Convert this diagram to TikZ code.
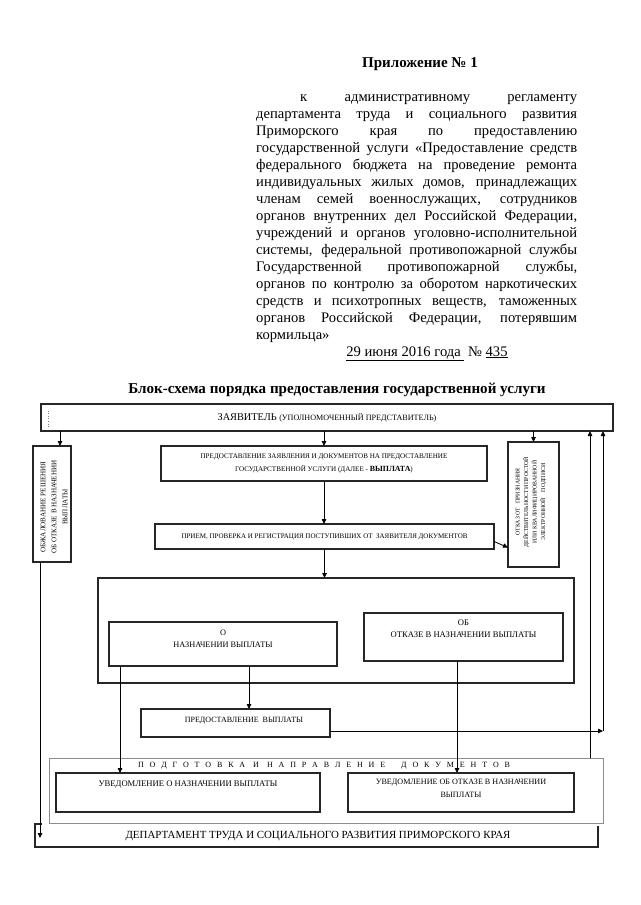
\documentclass[tikz,border=0pt]{standalone}
\usepackage{fontspec}
\setmainfont{Liberation Serif}
\usetikzlibrary{arrows.meta,calc}
\begin{document}
\begin{tikzpicture}[x=1pt,y=-1pt,
  frame/.style={draw=black!85, line width=1.2pt, inner sep=0pt, outer sep=0pt},
  arr/.style={line width=0.8pt, -{Triangle[length=5pt,width=4.5pt]}},
  ln/.style={line width=0.8pt},
  body/.style={font=\fontsize{14.6}{17}\selectfont, inner sep=0pt, anchor=base west},
  bx/.style={font=\fontsize{7}{12}\selectfont, align=center, inner sep=1pt},
]
\useasboundingbox (0,0) rectangle (640,905);
\fill[white] (0,0) rectangle (640,905);

% ---------- header text ----------
\node[font=\fontsize{15}{17}\selectfont\bfseries, anchor=base] (app) at (420,67) {Приложение № 1};
\node[body] (p1) at (300,101) {\makebox[277pt][s]{к административному регламенту}};
\foreach \t [count=\i from 2] in {
  {департамента труда и социального развития},
  {Приморского края по предоставлению},
  {государственной услуги «Предоставление средств},
  {федерального бюджета на проведение ремонта},
  {индивидуальных жилых домов, принадлежащих},
  {членам семей военнослужащих, сотрудников},
  {органов внутренних дел Российской Федерации,},
  {учреждений и органов уголовно-исполнительной},
  {системы, федеральной противопожарной службы},
  {Государственной противопожарной службы,},
  {органов по контролю за оборотом наркотических},
  {средств и психотропных веществ, таможенных},
  {органов Российской Федерации, потерявшим}}
  {\node[body] (p\i) at (256,{101+17*(\i-1)}) {\makebox[321pt][s]{\t}};}
\node[body] (p15) at (256,339) {кормильца»};
\node[font=\fontsize{14.6}{17}\selectfont, anchor=base] (date) at (427,356) {\underline{29 июня 2016 года }\ №\ \underline{435}};
\node[font=\fontsize{15.1}{17}\selectfont\bfseries, anchor=base] (title) at (337,393) {Блок-схема порядка предоставления государственной услуги};

% ---------- boxes ----------
\node[frame, minimum width=572pt, minimum height=27pt] (Z) at (327,417.5)
  {{\fontsize{10.3}{11}\selectfont ЗАЯВИТЕЛЬ} {\fontsize{8.1}{9}\selectfont(УПОЛНОМОЧЕННЫЙ ПРЕДСТАВИТЕЛЬ)}};
\draw[dotted, black!50, line width=0.6pt] ([xshift=7pt,yshift=7pt]Z.west) -- ([xshift=7pt,yshift=-10pt]Z.west);

\node[frame, minimum width=38pt, minimum height=116pt] (obzh) at (52,504) {};
\node[rotate=90, font=\fontsize{7.1}{11}\selectfont, align=center, inner sep=0pt] (obzht) at (54,507)
  {ОБЖАЛОВАНИЕ РЕШЕНИЯ\\ОБ ОТКАЗЕ В НАЗНАЧЕНИИ\\ВЫПЛАТЫ};

\node[frame, minimum width=51pt, minimum height=125pt] (otkaz) at (533.5,504.5) {};
\node[rotate=90, font=\fontsize{5.8}{8.5}\selectfont, align=center, inner sep=0pt] (otkazt) at (531,502)
  {ОТКАЗ ОТ\ \ \ ПРИЗНАНИЯ\\ДЕЙСТВИТЕЛЬНОСТИ ПРОСТОЙ\\ИЛИ КВАЛИФИЦИРОВАННОЙ\\ЭЛЕКТРОННОЙ\ \ \ \ ПОДПИСИ};

\node[frame, bx, minimum width=326pt, minimum height=35pt, font=\fontsize{7.1}{13}\selectfont] (pred) at (324,463.5)
  {ПРЕДОСТАВЛЕНИЕ ЗАЯВЛЕНИЯ И ДОКУМЕНТОВ НА ПРЕДОСТАВЛЕНИЕ\\ГОСУДАРСТВЕННОЙ УСЛУГИ (ДАЛЕЕ - {\fontsize{7.9}{13}\selectfont\bfseries ВЫПЛАТА})};

\node[frame, bx, minimum width=339pt, minimum height=25pt, font=\fontsize{7}{9}\selectfont] (priem) at (324.5,536.5)
  {ПРИЕМ, ПРОВЕРКА И РЕГИСТРАЦИЯ ПОСТУПИВШИХ ОТ\ \ ЗАЯВИТЕЛЯ ДОКУМЕНТОВ};

\node[frame, minimum width=476pt, minimum height=105pt] (big) at (336,630.5) {};

\node[frame, minimum width=228pt, minimum height=44pt] (naz) at (223,644) {};
\node[bx, anchor=north, font=\fontsize{8.3}{12}\selectfont] (nazt) at ([yshift=-7pt]naz.north) {О\\НАЗНАЧЕНИИ ВЫПЛАТЫ};

\node[frame, minimum width=199pt, minimum height=48pt] (otk) at (463.5,637) {};
\node[bx, anchor=north, font=\fontsize{8.6}{12}\selectfont] (otkt) at ([yshift=-6pt]otk.north) {ОБ\\ОТКАЗЕ В НАЗНАЧЕНИИ ВЫПЛАТЫ};

\node[frame, minimum width=189pt, minimum height=28pt] (predv) at (235.5,723) {};
\node[bx, font=\fontsize{8}{9}\selectfont] (predvt) at (244,721) {ПРЕДОСТАВЛЕНИЕ\ \ ВЫПЛАТЫ};

\node[draw=black!45, line width=0.9pt, minimum width=554pt, minimum height=65pt, inner sep=0pt] (podg) at (326,790.5) {};
\node[font=\fontsize{8}{10}\selectfont, inner sep=0pt] (podgt) at (324,766)
  {\makebox[372pt][s]{П О Д Г О Т О В К А\quad И\quad Н А П Р А В Л Е Н И Е\qquad Д О К У М Е Н Т О В}};

\node[frame, minimum width=264pt, minimum height=39pt] (uv1) at (188,792.5) {};
\node[bx, anchor=north, font=\fontsize{8.6}{12}\selectfont] (uv1t) at ([yshift=-6.5pt]uv1.north) {УВЕДОМЛЕНИЕ О НАЗНАЧЕНИИ ВЫПЛАТЫ};

\node[frame, minimum width=226pt, minimum height=39pt] (uv2) at (461,792.5) {};
\node[bx, anchor=north, font=\fontsize{8.1}{12.5}\selectfont] (uv2t) at ([yshift=-5pt]uv2.north) {УВЕДОМЛЕНИЕ ОБ ОТКАЗЕ В НАЗНАЧЕНИИ\\ВЫПЛАТЫ};

% department box (open on top)
\draw[line width=1.1pt, black!85] (42,824) -- (35,824) -- (35,847) -- (598,847) -- (598,826);
\node[font=\fontsize{10.9}{12}\selectfont] (dept) at (318,836) {ДЕПАРТАМЕНТ ТРУДА И СОЦИАЛЬНОГО РАЗВИТИЯ ПРИМОРСКОГО КРАЯ};

% ---------- connectors ----------
\draw[arr] ([xshift=8pt]obzh.north |- Z.south) -- ([xshift=8pt]obzh.north);
\draw[arr] (Z.south -| pred.north) -- (pred.north);
\draw[arr] (Z.south -| otkaz.north) -- (otkaz.north);
\draw[arr] (pred.south) -- (pred.south |- priem.north);
\draw[arr] ([yshift=-5pt]priem.east) -- ([yshift=-43pt]otkaz.west);
\draw[arr] (priem.south) -- (priem.south |- big.north);
\draw[arr] ([xshift=26pt]naz.south) -- ([xshift=26pt]naz.south |- predv.north);
\draw[arr] ([xshift=-103pt]naz.south) -- ([xshift=-103pt]naz.south |- uv1.north);
\draw[arr] ([xshift=-6.5pt]otk.south) -- ([xshift=-6.5pt]otk.south |- uv2.north);
\draw[arr] ([xshift=-12pt]obzh.south) -- ([xshift=-12pt,yshift=-2pt]obzh.south |- dept.center);
\coordinate (rc) at (603,731);
\draw[arr] (predv.east |- rc) -- (rc);
\draw[arr] (rc) -- (rc |- Z.south);
\draw[arr] ([xshift=264pt]podg.north) -- ([xshift=264pt]podg.north |- Z.south);
\end{tikzpicture}
\end{document}
